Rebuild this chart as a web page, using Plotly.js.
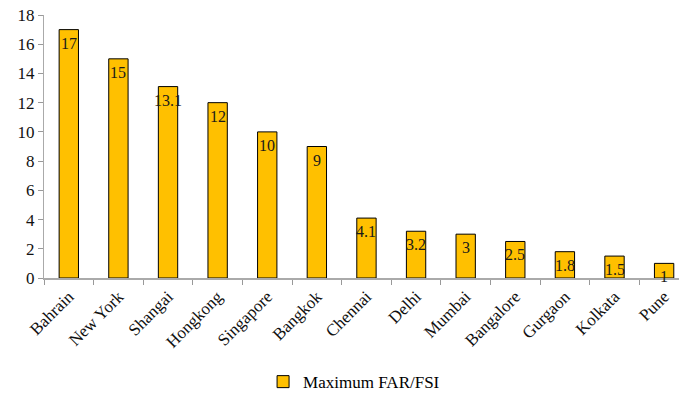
<!DOCTYPE html>
<html><head><meta charset="utf-8">
<script src="https://cdn.plot.ly/plotly-3.0.1.min.js"></script>
<style>body{margin:0;background:#fff}#c{width:679px;height:398px}</style>
</head><body><div id="c"></div>
<script>
const cities = ["Bahrain","New York","Shangai","Hongkong","Singapore","Bangkok","Chennai","Delhi","Mumbai","Bangalore","Gurgaon","Kolkata","Pune"];
const farValues = [17,15,13.1,12,10,9,4.1,3.2,3,2.5,1.8,1.5,1];
const labels = ["17","15","13.1","12","10","9","4.1","3.2","3","2.5","1.8","1.5","1"];
const seriesName = "Maximum FAR/FSI";
const font = "'Liberation Serif', 'Times New Roman', serif";

const trace = {
  type: "bar", x: cities, y: farValues, name: seriesName,
  width: 0.39,
  marker: {color: "#FFC000", line: {color: "#000", width: 1}},
  hoverinfo: "none"
};
const annotations = cities.map((c, i) => ({
  x: c, y: farValues[i], text: labels[i], showarrow: false,
  yanchor: "top", xanchor: "center", yshift: -3,
  font: {family: font, size: 16, color: "#1a1a1a"}
}));
Plotly.newPlot("c", [trace], {
  width: 679, height: 398,
  margin: {l: 44, r: 0, t: 15, b: 120},
  paper_bgcolor: "#fff", plot_bgcolor: "#fff",
  showlegend: true,
  legend: {orientation: "h", x: 0.345, xanchor: "left", yref: "container", y: 0.04, yanchor: "middle",
    itemwidth: 30, font: {family: font, size: 17, color: "#000"}},
  xaxis: {range: [-0.5, 12.3], tickangle: -45, ticks: "outside", tickson: "boundaries",
    automargin: false,
    ticklen: 5, tickcolor: "#999", showline: true, linecolor: "#aaa", linewidth: 2,
    tickfont: {family: font, size: 17, color: "#111"}, showgrid: false, fixedrange: true},
  yaxis: {range: [0, 18], dtick: 2, ticks: "outside", ticklen: 5, tickcolor: "#999",
    automargin: false,
    showline: true, linecolor: "#aaa", linewidth: 1, showgrid: false, zeroline: false,
    tickfont: {family: font, size: 17, color: "#111"}},
  annotations: annotations,
  bargap: 0.6
}, {staticPlot: true});
</script></body></html>
